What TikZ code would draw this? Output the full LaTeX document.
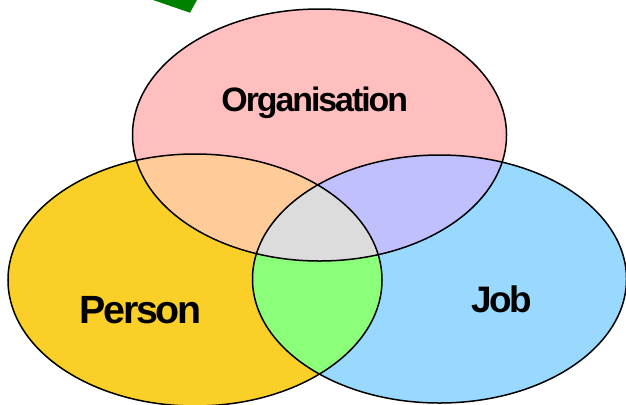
\documentclass[tikz,border=0pt]{standalone}
\usepackage{fontspec}
\setmainfont{Liberation Sans}[LetterSpace=-6]
\definecolor{cPink}{HTML}{FFBFBF}
\definecolor{cYellow}{HTML}{FAD028}
\definecolor{cBlue}{HTML}{99D9FF}
\definecolor{cOrange}{HTML}{FFCC99}
\definecolor{cLav}{HTML}{C0C0FF}
\definecolor{cGreen}{HTML}{8CFF7A}
\definecolor{cGray}{HTML}{DCDCDC}
\definecolor{cArrow}{HTML}{008000}
\tikzset{
  lbl/.style={anchor=base, inner sep=0pt, font=\bfseries},
  outline/.style={draw=black, line width=1.5bp}
}
\def\ellO{(319.5,135) ellipse [x radius=187bp, y radius=126bp]}
\def\ellP{(195,280) ellipse [x radius=187bp, y radius=126bp]}
\def\ellJ{(439.5,279) ellipse [x radius=187bp, y radius=124bp]}
\begin{document}
\begin{tikzpicture}[x=1bp, y=-1bp]
\useasboundingbox (0,0) rectangle (626,404);
\fill[cArrow] (153,0) -- (197,0) -- (190,12.7) -- cycle;
\fill[cPink] \ellO;
\fill[cYellow] \ellP;
\fill[cBlue] \ellJ;
\begin{scope}
  \clip \ellO;
  \fill[cOrange] \ellP;
  \fill[cLav] \ellJ;
  \clip \ellP;
  \fill[cGray] \ellJ;
\end{scope}
\begin{scope}
  \clip \ellP;
  \clip \ellJ;
  \fill[cGreen] (0,0) rectangle (626,404);
  \clip \ellO;
  \fill[cGray] (0,0) rectangle (626,404);
\end{scope}
\path[outline] \ellO;
\path[outline] \ellP;
\path[outline] \ellJ;
\node[lbl, font=\fontsize{34}{34}\bfseries\selectfont] (org) at (314.7,111) {Organisation};
\node[lbl, font=\fontsize{39.5}{40}\bfseries\selectfont] (person) at (140.5,323.3) {Person};
\node[lbl, font=\fontsize{37}{37}\bfseries\selectfont] (job) at (501.7,312.7) {Job};
\end{tikzpicture}
\end{document}
